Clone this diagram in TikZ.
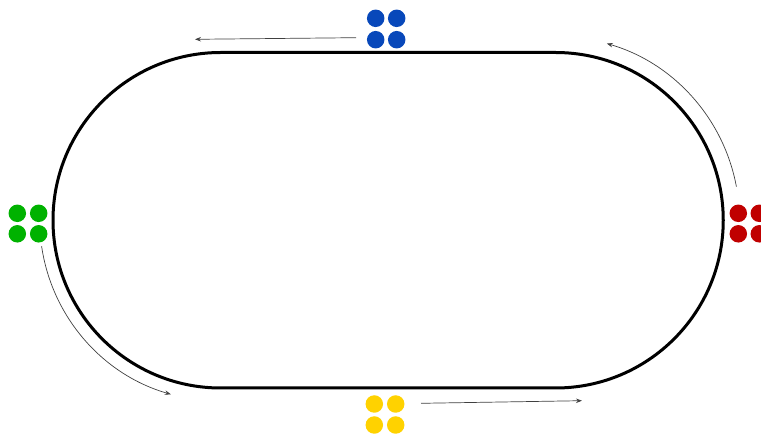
\documentclass[tikz,border=0pt]{standalone}
\usetikzlibrary{arrows.meta}
\definecolor{dotblue}{RGB}{8,72,186}
\definecolor{dotgreen}{RGB}{0,178,0}
\definecolor{dotred}{RGB}{192,0,0}
\definecolor{dotyellow}{RGB}{255,210,0}
\begin{document}
\begin{tikzpicture}[x=1pt,y=1pt,
  dot/.style={circle,inner sep=0pt,minimum size=17.5pt,draw=none},
  track/.style={line width=3pt,black},
  arr/.style={line width=0.7pt,black!75,-{Stealth[length=6pt,width=4.5pt]}}]
\useasboundingbox (0,0) rectangle (761,434);
% track
\draw[track] (220.75,381.5) -- (555.5,381.5) arc[start angle=90,end angle=-90,radius=167.75]
  -- (220.75,46) arc[start angle=270,end angle=90,radius=167.75] -- cycle;
% blue dots
\node[dot,fill=dotblue] (b1) at (375.7,415.7) {};
\node[dot,fill=dotblue] (b2) at (396.7,415.7) {};
\node[dot,fill=dotblue] (b3) at (375.7,394.3) {};
\node[dot,fill=dotblue] (b4) at (396.7,394.3) {};
% green dots
\node[dot,fill=dotgreen] (g1) at (17.3,220.7) {};
\node[dot,fill=dotgreen] (g2) at (38.7,220.7) {};
\node[dot,fill=dotgreen] (g3) at (17.3,200.2) {};
\node[dot,fill=dotgreen] (g4) at (38.7,200.2) {};
% red dots
\node[dot,fill=dotred] (r1) at (738.3,220.7) {};
\node[dot,fill=dotred] (r2) at (759.3,220.7) {};
\node[dot,fill=dotred] (r3) at (738.3,200.2) {};
\node[dot,fill=dotred] (r4) at (759.3,200.2) {};
% yellow dots
\node[dot,fill=dotyellow] (y1) at (374.3,30) {};
\node[dot,fill=dotyellow] (y2) at (395.7,30) {};
\node[dot,fill=dotyellow] (y3) at (374.3,9) {};
\node[dot,fill=dotyellow] (y4) at (395.7,9) {};
% arrows
\coordinate (tS) at (356,396.3);
\coordinate (tE) at (195,394.7);
\draw[arr] (tS) -- (tE);
\coordinate (bS) at (421,30.7);
\coordinate (bE) at (582,33.3);
\draw[arr] (bS) -- (bE);
\coordinate (rS) at (736.4,247.3);
\draw[arr] (rS) arc[start angle=10.5,end angle=73.8,radius=184];
\coordinate (lS) at (41.6,187.9);
\draw[arr] (lS) arc[start angle=188.2,end angle=254,radius=181];
\end{tikzpicture}
\end{document}
